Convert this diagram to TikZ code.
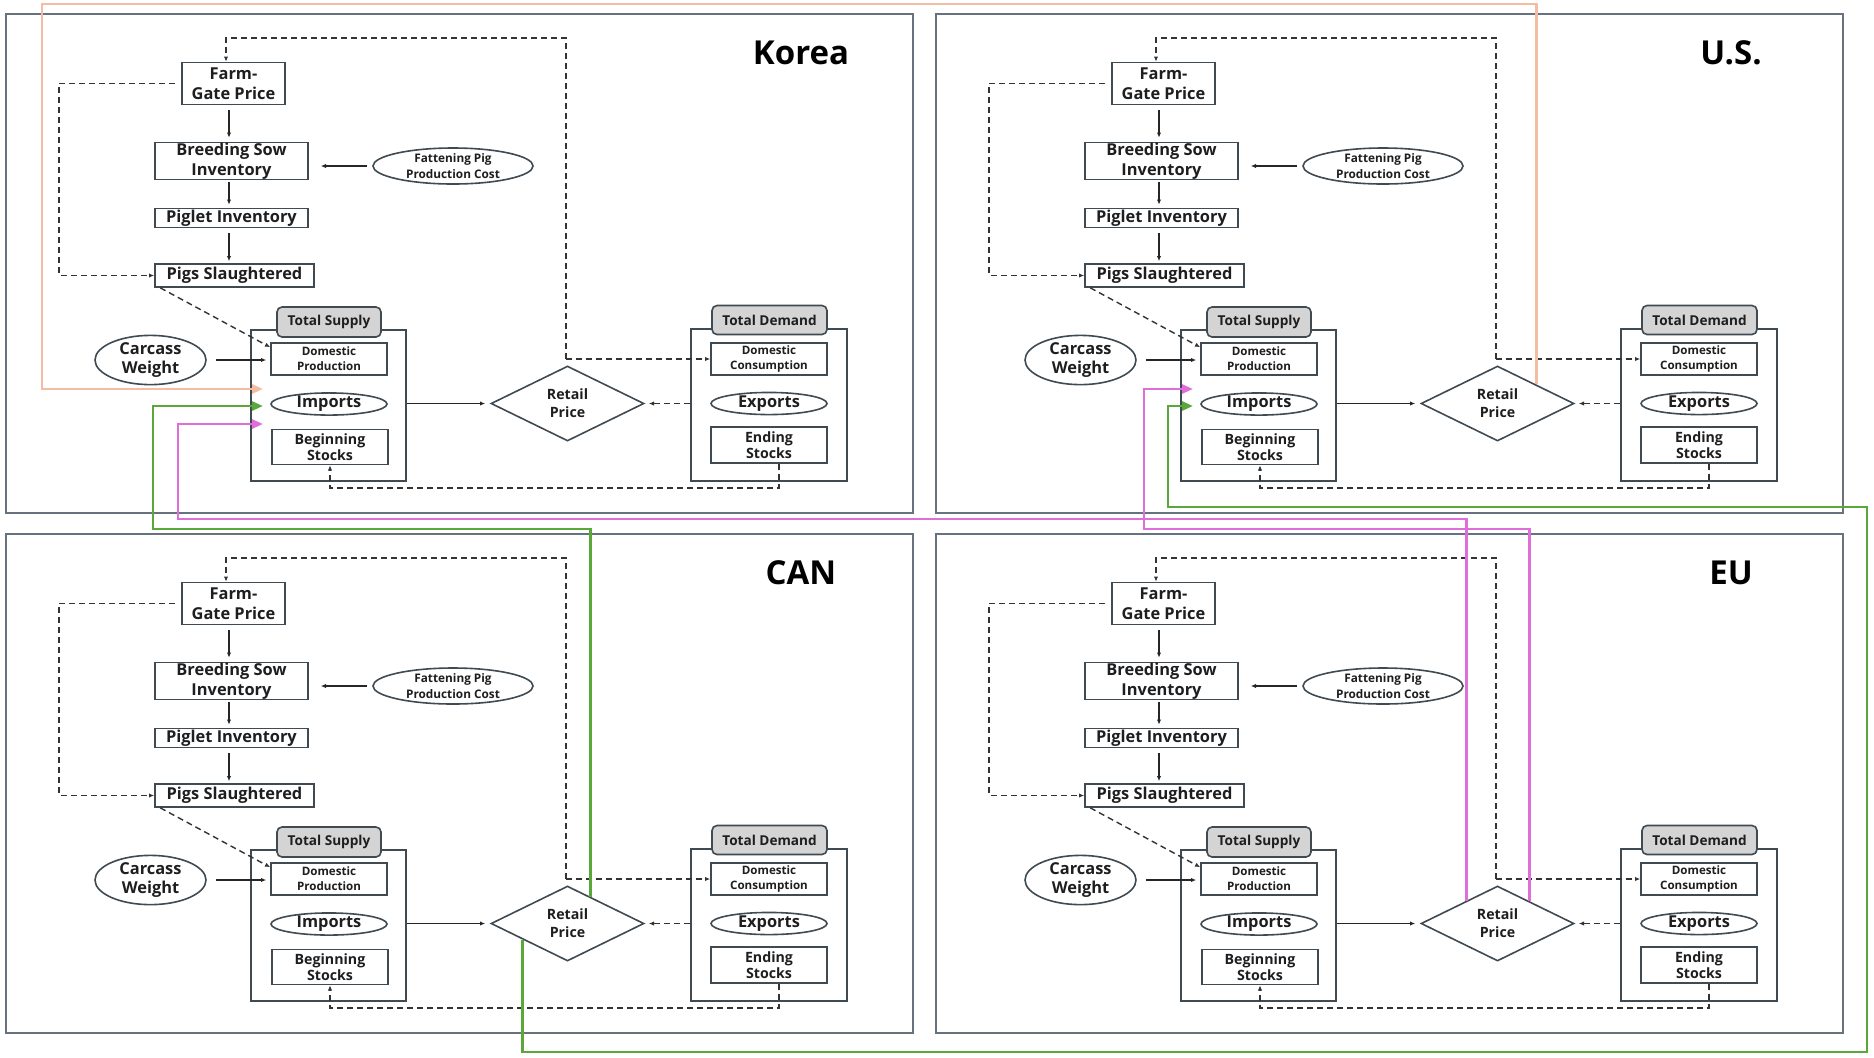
\documentclass[tikz,border=0pt]{standalone}
\usepackage{fontspec}
\setmainfont{Open Sans}
\usetikzlibrary{arrows.meta,shapes.geometric,calc}
\definecolor{panelc}{HTML}{66737E}
\definecolor{boxc}{HTML}{3F4A52}
\definecolor{tabc}{HTML}{D4D4D4}
\definecolor{dashc}{HTML}{333333}
\definecolor{txtc}{HTML}{1E1E1E}
\definecolor{orangeC}{HTML}{F4BCA2}
\definecolor{greenC}{HTML}{5BA83A}
\definecolor{pinkC}{HTML}{DE6ED8}
\newcommand\fntBig{\bfseries\fontsize{8.2}{10}\selectfont}
\newcommand\fntSm{\bfseries\fontsize{5.8}{7.5}\selectfont}
\newcommand\fntMid{\bfseries\fontsize{7.1}{8.2}\selectfont}
\newcommand\fntTab{\bfseries\fontsize{6.8}{8}\selectfont}
\newcommand\fntRP{\bfseries\fontsize{7.1}{9}\selectfont}
\newcommand\fntCW{\bfseries\fontsize{8.2}{9.5}\selectfont}
\newcommand\fntFP{\bfseries\fontsize{5.9}{7.8}\selectfont}
\newcommand\fntLbl{\bfseries\fontsize{16.5}{18}\selectfont}
\tikzset{
  panel/.style={draw=panelc, line width=1.2pt},
  box/.style={draw=boxc, line width=0.8pt, fill=white, inner sep=0pt, align=center, text=txtc},
  oval/.style={box, ellipse},
  cont/.style={draw=boxc, line width=0.8pt, inner sep=0pt},
  tabn/.style={draw=boxc, line width=0.8pt, fill=tabc, rounded corners=2.5pt, inner sep=0pt, text=txtc, font=\fntTab},
  dia/.style={draw=boxc, line width=0.8pt, diamond, inner sep=0pt, align=center, text=txtc, fill=white, font=\fntRP},
  arr/.style={-{Latex[length=2.6pt,width=2.2pt]}, line width=0.6pt, draw=black!85},
  dsh/.style={arr, line width=0.7pt, dash pattern=on 3pt off 2pt, draw=dashc},
  imp/.style={line width=1.4pt, -{Triangle[length=5.5pt,width=4.5pt]}, draw=#1},
  lbl/.style={font=\fntLbl, text=black}
}
\newcommand\pnl[4]{%
\begin{scope}[shift={(#3,#4)}]
\draw[panel] (6,14) rectangle (913,513);
\node[lbl] (#1L) at (801,53) {#2};
\node[box, font=\fntBig, minimum width=51.5pt, minimum height=21pt] (#1FG) at (233.5,83.5) {Farm-\\Gate Price};
\node[box, font=\fntBig, minimum width=76.5pt, minimum height=18.5pt] (#1BS) at (231.5,161) {Breeding Sow\\Inventory};
\node[box, font=\fntBig, minimum width=76.5pt, minimum height=9.5pt] (#1PI) at (231.5,218) {Piglet Inventory};
\node[box, font=\fntBig, minimum width=79.5pt, minimum height=11.5pt] (#1PS) at (234.5,275.5) {Pigs Slaughtered};
\node[oval, font=\fntFP, minimum width=80pt, minimum height=18pt] (#1FP) at (453,166) {Fattening Pig\\Production Cost};
\node[cont, minimum width=77.5pt, minimum height=75.5pt] (#1TSbox) at (328.5,405.5) {};
\node[tabn, minimum width=52pt, minimum height=15pt] (#1TS) at (329,322) {Total Supply};
\node[box, font=\fntSm, minimum width=58pt, minimum height=16pt] (#1DP) at (329,359) {Domestic\\Production};
\node[oval, font=\fntBig, minimum width=58pt, minimum height=10.5pt] (#1IM) at (329,404) {Imports};
\node[box, font=\fntMid, minimum width=58pt, minimum height=17.5pt] (#1BG) at (330,447) {Beginning\\Stocks};
\node[oval, font=\fntCW, minimum width=55.5pt, minimum height=23pt] (#1CW) at (150.5,360) {Carcass\\Weight};
\node[dia, minimum width=76.5pt, minimum height=37.5pt] (#1RP) at (567.5,403.5) {Retail\\Price};
\node[cont, minimum width=78pt, minimum height=76pt] (#1TDbox) at (769,405) {};
\node[tabn, minimum width=57.5pt, minimum height=14.5pt] (#1TD) at (769.5,320) {Total Demand};
\node[box, font=\fntSm, minimum width=58pt, minimum height=16pt] (#1DC) at (769,359) {Domestic\\Consumption};
\node[oval, font=\fntBig, minimum width=58pt, minimum height=10.5pt] (#1EX) at (769,403.5) {Exports};
\node[box, font=\fntMid, minimum width=58pt, minimum height=18pt] (#1ES) at (769,445) {Ending\\Stocks};
\coordinate (#1C) at (229,0);
\coordinate (#1T) at (566,359);
\coordinate (#1TL) at (226,38);
\coordinate (#1LL) at (59,0);
\coordinate (#1B) at (779,488);
\coordinate (#1in1) at (263,389);
\coordinate (#1in2) at (263,406);
\coordinate (#1in3) at (263,424);
\draw[arr, shorten <=2.5pt, shorten >=2pt] (#1FG.south -| #1C) -- (#1BS.north -| #1C);
\draw[arr, shorten <=1pt, shorten >=1.5pt] (#1BS.south -| #1C) -- (#1PI.north -| #1C);
\draw[arr, shorten <=2.5pt, shorten >=1pt] (#1PI.south -| #1C) -- (#1PS.north -| #1C);
\draw[arr, shorten <=2.5pt, shorten >=6pt] (#1FP.west) -- (#1BS.east |- #1FP.west);
\draw[dsh] (#1T) |- (#1TL) -- (#1FG.north -| #1TL);
\draw[dsh] (#1T) -- (#1DC.west |- #1T);
\draw[dsh] ([xshift=-3pt]#1FG.west) -- (#1FG.west -| #1LL) |- (#1PS.west);
\draw[dsh] ([xshift=3pt]#1PS.south west) -- ([yshift=-2.5pt]#1DP.north west);
\draw[arr, shorten <=4.5pt, shorten >=2pt] (#1CW.east) -- (#1DP.west |- #1CW.east);
\draw[arr, shorten >=2.5pt] (#1TSbox.east |- #1RP.west) -- (#1RP.west);
\draw[dsh, shorten >=2pt] (#1TDbox.west |- #1RP.east) -- (#1RP.east);
\draw[dsh] (#1ES.south -| #1B) -- (#1B) -| (#1BG.south);
\end{scope}}
\begin{document}
\begin{tikzpicture}[x=0.5pt,y=-0.5pt]
\fill[white] (0,0) rectangle (1874,1057);
\useasboundingbox (0,0) rectangle (1874,1057);
\pnl{K-}{Korea}{0}{0}
\pnl{U-}{U.S.}{930}{0}
\pnl{C-}{CAN}{0}{520}
\pnl{E-}{EU}{930}{520}
\coordinate (oTL) at (42,4);
\coordinate (gK) at (153,529);
\coordinate (gBR) at (1867,1052);
\coordinate (gUR) at (1168,507);
\coordinate (pK) at (178,519);
\coordinate (pU) at (1144,529);
\draw[imp=orangeC] (U-RP.north east) |- (oTL) |- (K-in1);
\draw[imp=greenC] ($(C-RP.north)!0.3!(C-RP.east)$) |- (gK) |- (K-in2);
\draw[imp=greenC] ($(C-RP.west)!0.42!(C-RP.south)$) |- (gBR) |- (gUR) |- (U-in2);
\draw[imp=pinkC] ($(E-RP.north)!0.4!(E-RP.west)$) |- (pK) |- (K-in3);
\draw[imp=pinkC] ($(E-RP.north)!0.41!(E-RP.east)$) |- (pU) |- (U-in1);
\end{tikzpicture}
\end{document}
